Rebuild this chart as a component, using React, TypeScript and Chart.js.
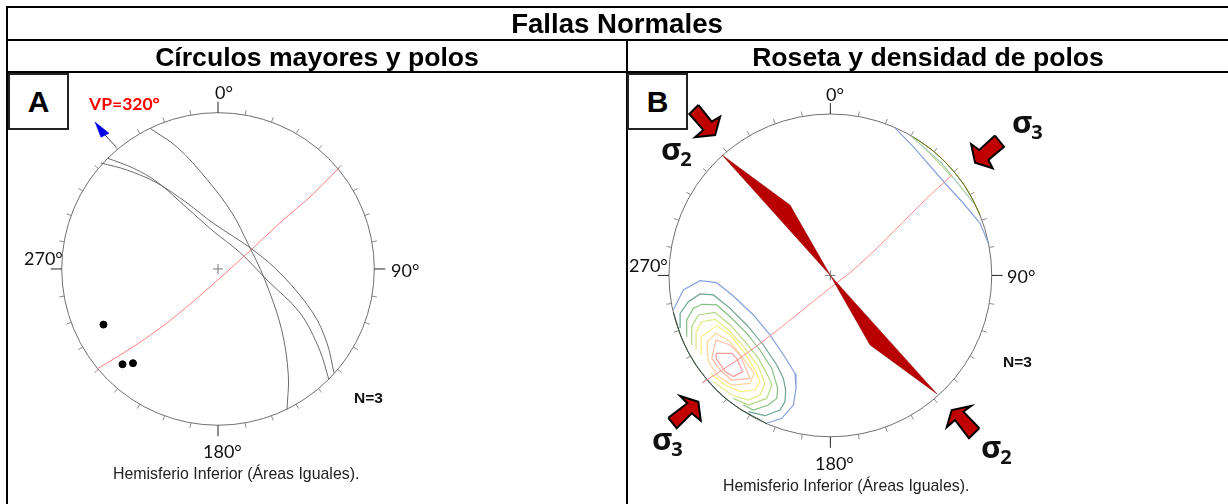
import React, { useEffect, useRef } from "react";
import { Chart, registerables } from "chart.js";

Chart.register(...registerables);

type Pt = [number, number];

// Stereonet units: the primitive circle has radius 100, x is east, y is north.
const TICK_AZIMUTHS = [0, 10, 20, 30, 40, 50, 60, 70, 80, 90, 100, 110, 120, 130, 140, 150, 160, 170, 180, 190, 200, 210, 220, 230, 240, 250, 260, 270, 280, 290, 300, 310, 320, 330, 340, 350];

// Panel A
const PLANE_1: Pt[] = [[-43.5, 90.0], [-26.0, 77.8], [-7.0, 57.2], [9.0, 35.8], [19.5, 15.4], [29.5, -5.8], [40.5, -38.0], [45.0, -68.0], [44.1, -90.2]];
const PLANE_2: Pt[] = [[-71.0, 71.0], [-54.4, 64.6], [-39.0, 55.7], [-19.8, 39.0], [-3.2, 24.3], [14.1, 10.5], [31.3, -7.0], [52.5, -28.2], [65.0, -51.8], [71.0, -71.0]];
const PLANE_3: Pt[] = [[-74.9, 67.8], [-58.2, 63.3], [-39.0, 55.0], [-19.8, 42.2], [-3.2, 29.4], [22.4, 12.2], [41.6, -4.5], [60.8, -28.2], [69.7, -47.3], [74.2, -66.5]];
const VP_PLANE_A: Pt[] = [[77.4, 64.6], [58.9, 46.1], [41.6, 31.3], [22.4, 13.4], [-5.1, -11.5], [-32.6, -34.5], [-54.4, -49.9], [-77.4, -64.0]];
const POLES: Pt[] = [[-73.3, -35.6], [-61.1, -61.0], [-54.4, -60.3]];
const VP_SHAFT: Pt[] = [[-72.3, 85.7], [-65.3, 78.2]];
const VP_HEAD: Pt[] = [[-78.7, 94.0], [-69.7, 86.8], [-74.9, 84.3], [-78.7, 94.0]];

// Panel B
const VP_PLANE_B: Pt[] = [[75.4, 62.2], [58.7, 46.7], [30.8, 18.8], [14.1, 3.3], [-0.2, -7.8], [-34.3, -35.1], [-56.0, -51.2], [-79.5, -66.7]];
const ROSE_NW: Pt[] = [[-67.1, 74.6], [-25.0, 43.6], [0, 0], [-67.1, 74.6]];
const ROSE_SE: Pt[] = [[0, 0], [24.6, -43.1], [66.1, -73.4], [0, 0]];

const DENSITY_1: Pt[] = [[-97.3, -21.4], [-91.1, -9.0], [-80.7, -3.3], [-70.4, -4.5], [-60.1, -12.8], [-47.7, -24.5], [-37.4, -36.9], [-27.0, -52.4], [-21.9, -60.7], [-21.3, -70.0], [-22.9, -80.3], [-30.1, -88.5], [-39.4, -91.6]];
const DENSITY_2: Pt[] = [[-93.1, -32.8], [-93.1, -23.5], [-88.0, -16.3], [-80.7, -11.5], [-72.5, -12.1], [-62.1, -20.4], [-51.8, -30.7], [-41.5, -43.1], [-33.2, -55.5], [-29.1, -63.8], [-27.7, -71.0], [-28.1, -78.2], [-31.2, -83.4], [-40.5, -86.9], [-50.8, -84.4]];
const DENSITY_3: Pt[] = [[-89.0, -38.0], [-89.0, -27.6], [-84.9, -20.4], [-79.7, -17.9], [-70.4, -18.3], [-62.1, -25.6], [-51.8, -35.9], [-43.6, -46.2], [-36.3, -57.6], [-32.6, -70.0], [-33.2, -76.2], [-38.4, -80.3], [-47.7, -83.4], [-53.9, -80.3]];
const DENSITY_4: Pt[] = [[-85.9, -43.1], [-85.9, -31.8], [-81.8, -24.5], [-71.4, -22.9], [-62.1, -30.7], [-52.9, -41.0], [-44.6, -51.4], [-38.4, -62.7], [-36.3, -67.9], [-39.4, -76.2], [-50.8, -80.3], [-60.1, -76.2]];
const DENSITY_5: Pt[] = [[-83.2, -46.2], [-83.2, -34.8], [-79.7, -28.7], [-71.4, -27.2], [-63.2, -33.8], [-52.9, -45.2], [-44.6, -56.5], [-40.5, -66.9], [-43.6, -74.1], [-50.8, -77.2], [-61.1, -74.1], [-72.5, -65.8]];
const DENSITY_6: Pt[] = [[-80.1, -49.3], [-80.1, -38.0], [-70.4, -31.1], [-62.1, -36.9], [-52.9, -48.3], [-46.7, -58.6], [-43.6, -65.8], [-46.7, -71.0], [-55.9, -72.0], [-65.2, -67.9], [-74.5, -60.7]];
const DENSITY_7: Pt[] = [[-76.2, -46.2], [-76.2, -41.0], [-70.8, -35.9], [-62.1, -41.0], [-53.9, -51.4], [-47.3, -60.7], [-49.8, -66.9], [-61.1, -67.9], [-69.4, -62.7], [-75.6, -53.4], [-76.2, -46.2]];
const DENSITY_8: Pt[] = [[-73.5, -51.4], [-70.8, -40.0], [-62.1, -43.1], [-55.9, -49.3], [-49.8, -63.8], [-61.1, -64.8], [-68.3, -58.6], [-73.5, -51.4]];
const DENSITY_9: Pt[] = [[-70.8, -48.3], [-61.1, -48.3], [-58.0, -51.4], [-54.3, -59.6], [-60.1, -62.7], [-65.2, -59.6], [-70.8, -51.4], [-70.8, -48.3]];
const DENSITY_NE_1: Pt[] = [[40.1, 91.2], [51.4, 79.8], [71.1, 57.1], [82.4, 44.7], [92.8, 32.3], [97.9, 19.9]];
const DENSITY_NE_2: Pt[] = [[50.4, 86.0], [69.0, 69.5], [89.7, 43.7]];
const DENSITY_NE_3: Pt[] = [[57.6, 79.8], [75.2, 61.2]];
const RIM_NE: Pt[] = [[51.4, 85.8], [65.9, 75.2], [79.3, 60.9], [86.6, 49.9], [92.8, 37.2]];
const RIM_SW: Pt[] = [[-97.3, -23.0], [-90.0, -43.6], [-78.0, -62.6], [-62.0, -78.5], [-39.4, -91.9]];

const ARROW_SIGMA2_NW: Pt[] = [[-81.8, 105.6], [-87.4, 100.0], [-78.7, 90.1], [-83.8, 85.6], [-71.4, 87.0], [-68.3, 98.3], [-73.5, 95.2], [-81.8, 105.6]];
const ARROW_SIGMA3_NE: Pt[] = [[102.0, 86.6], [107.6, 79.7], [97.9, 71.5], [100.6, 66.4], [89.7, 69.8], [87.2, 81.4], [92.3, 77.7], [102.0, 86.6]];
const ARROW_SIGMA3_SW: Pt[] = [[-100.4, -88.2], [-95.2, -94.7], [-85.9, -85.4], [-80.3, -90.0], [-81.8, -78.3], [-93.1, -74.7], [-88.6, -79.2], [-100.4, -88.2]];
const ARROW_SIGMA2_SE: Pt[] = [[92.3, -94.7], [85.9, -100.9], [77.3, -89.6], [72.1, -94.1], [75.2, -83.4], [87.2, -80.9], [82.4, -84.4], [92.3, -94.7]];

type Lab = { t: string; x: number; y: number; font: string; color?: string; align?: CanvasTextAlign; sub?: string };
const DEG = '18px Lato, "Open Sans", sans-serif';
const SMALL = '15.9px "Liberation Sans", Arial, sans-serif';
const NFONT = 'bold 15.5px "Liberation Sans", Arial, sans-serif';
const SIG = 'bold 31px "Open Sans", sans-serif';

const toXY = (p: Pt[]) => p.map(([x, y]) => ({ x, y }));
const line = (d: Pt[], color: string, width = 1.2, tension = 0) => ({
  type: "scatter" as const,
  data: toXY(d),
  showLine: true,
  borderColor: color,
  borderWidth: width,
  pointRadius: 0,
  tension,
  fill: false,
});
const poly = (d: Pt[], fillColor: string, stroke: string, width: number) => ({
  type: "scatter" as const,
  data: toXY(d),
  showLine: true,
  borderColor: stroke,
  backgroundColor: fillColor,
  borderWidth: width,
  pointRadius: 0,
  fill: "shape",
});

const stereoPlugin = (labels: Lab[]) => ({
  id: "stereoFrame",
  beforeDatasetsDraw(chart: any) {
    const { ctx } = chart;
    const sx = chart.scales.x;
    const sy = chart.scales.y;
    const cx = sx.getPixelForValue(0);
    const cy = sy.getPixelForValue(0);
    const r = sx.getPixelForValue(100) - cx;
    ctx.save();
    ctx.strokeStyle = "#6f6f6f";
    ctx.lineWidth = 1;
    ctx.beginPath();
    ctx.arc(cx, cy, r, 0, Math.PI * 2);
    ctx.stroke();
    TICK_AZIMUTHS.forEach((az) => {
      const a = (az * Math.PI) / 180;
      const major = az % 90 === 0;
      const len = major ? 11 : 5;
      ctx.strokeStyle = major ? "#222" : "#8a8a8a";
      ctx.beginPath();
      ctx.moveTo(cx + r * Math.sin(a), cy - r * Math.cos(a));
      ctx.lineTo(cx + (r + len) * Math.sin(a), cy - (r + len) * Math.cos(a));
      ctx.stroke();
    });
    ctx.strokeStyle = "#777";
    ctx.beginPath();
    ctx.moveTo(cx - 5, cy);
    ctx.lineTo(cx + 5, cy);
    ctx.moveTo(cx, cy - 5);
    ctx.lineTo(cx, cy + 5);
    ctx.stroke();
    ctx.textBaseline = "alphabetic";
    labels.forEach((l) => {
      ctx.font = l.font;
      ctx.fillStyle = l.color ?? "#111";
      ctx.textAlign = l.align ?? "left";
      ctx.fillText(l.t, l.x, l.y);
      if (l.sub) {
        const w = ctx.measureText(l.t).width;
        ctx.font = 'bold 20px "Open Sans", sans-serif';
        ctx.fillText(l.sub, l.x + w - 1, l.y + 6);
      }
    });
    ctx.restore();
  },
});

const Stereonet = ({ left, width, xr, yr, datasets, labels }: any) => {
  const ref = useRef<HTMLCanvasElement>(null);
  useEffect(() => {
    const chart = new Chart(ref.current!, {
      type: "scatter",
      data: { datasets },
      plugins: [stereoPlugin(labels)],
      options: {
        animation: false,
        responsive: false,
        layout: { padding: 0, autoPadding: false },
        plugins: { legend: { display: false }, tooltip: { enabled: false }, title: { display: false } },
        scales: {
          x: { type: "linear", display: false, min: xr[0], max: xr[1] },
          y: { type: "linear", display: false, min: yr[0], max: yr[1] },
        },
      },
    });
    return () => chart.destroy();
  }, []);
  return <canvas ref={ref} width={width} height={504} style={{ position: "absolute", left, top: 0, width, height: 504, display: "block" }} />;
};

const PLANE_COLOR = "#6b6b6b";
const datasetsA = [
  { type: "scatter" as const, data: toXY(POLES), pointRadius: 3.5, pointBackgroundColor: "#000", pointBorderColor: "#000", showLine: false },
  poly(VP_HEAD, "#0000e6", "#0000e6", 0.5),
  line(VP_SHAFT, "#444", 1),
  line(VP_PLANE_A, "#ff7f7f", 1, 0.3),
  line(PLANE_1, PLANE_COLOR, 1, 0.35),
  line(PLANE_2, PLANE_COLOR, 1, 0.35),
  line(PLANE_3, PLANE_COLOR, 1, 0.35),
];

const datasetsB = [
  poly(ARROW_SIGMA2_NW, "#c00000", "#000", 2),
  poly(ARROW_SIGMA3_NE, "#c00000", "#000", 2),
  poly(ARROW_SIGMA3_SW, "#c00000", "#000", 2),
  poly(ARROW_SIGMA2_SE, "#c00000", "#000", 2),
  poly(ROSE_NW, "#b80000", "#8a0000", 0.5),
  poly(ROSE_SE, "#b80000", "#8a0000", 0.5),
  line(VP_PLANE_B, "#ff8c8c", 1, 0.3),
  line(RIM_NE, "#6f7a00", 1, 0.4),
  line(RIM_SW, "#2a4a30", 1, 0.4),
  line(DENSITY_9, "#fb9a9a"),
  line(DENSITY_8, "#fdbca2"),
  line(DENSITY_7, "#fdd49c"),
  line(DENSITY_6, "#fbee7c"),
  line(DENSITY_5, "#dfe982"),
  line(DENSITY_4, "#b4d884"),
  line(DENSITY_3, "#88c084"),
  line(DENSITY_2, "#6ea492"),
  line(DENSITY_1, "#88a0dc"),
  line(DENSITY_NE_1, "#88a0dc"),
  line(DENSITY_NE_2, "#a4cbb4"),
  line(DENSITY_NE_3, "#c4dc90"),
];

const labelsA: Lab[] = [
  { t: "0°", x: 215, y: 99, font: DEG },
  { t: "90°", x: 391, y: 277, font: DEG },
  { t: "180°", x: 203, y: 458, font: DEG },
  { t: "270°", x: 24, y: 265, font: DEG },
  { t: "VP=320°", x: 89, y: 110, font: 'bold 17.5px Lato, sans-serif', color: "#ff0000" },
  { t: "N=3", x: 354, y: 403, font: NFONT },
  { t: "Hemisferio Inferior (Áreas Iguales).", x: 113, y: 479, font: SMALL, color: "#222" },
];
const labelsB: Lab[] = [
  { t: "0°", x: 199, y: 101, font: DEG },
  { t: "90°", x: 380, y: 283, font: DEG },
  { t: "180°", x: 188, y: 470, font: DEG },
  { t: "270°", x: 2, y: 272, font: DEG },
  { t: "N=3", x: 376, y: 367, font: NFONT },
  { t: "Hemisferio Inferior (Áreas Iguales).", x: 96, y: 491, font: SMALL, color: "#222" },
  { t: "σ", x: 34, y: 160, font: SIG, sub: "2" },
  { t: "σ", x: 385, y: 133, font: SIG, sub: "3" },
  { t: "σ", x: 25, y: 450, font: SIG, sub: "3" },
  { t: "σ", x: 354, y: 458, font: SIG, sub: "2" },
];

const rule = (s: React.CSSProperties): React.CSSProperties => ({ position: "absolute", background: "#000", ...s });
const head = (s: React.CSSProperties): React.CSSProperties => ({
  position: "absolute",
  textAlign: "center",
  fontFamily: '"Liberation Sans", Arial, sans-serif',
  fontWeight: 700,
  fontSize: 26.6,
  lineHeight: "30px",
  color: "#000",
  ...s,
});
const box = (left: number): React.CSSProperties => ({
  position: "absolute",
  left,
  top: 73,
  width: 57,
  height: 53,
  background: "#fff",
  border: "2px solid #222",
  textAlign: "center",
  fontFamily: '"Liberation Sans", Arial, sans-serif',
  fontWeight: 700,
  fontSize: 30,
  lineHeight: "53px",
});

export default function App() {
  return (
    <div style={{ position: "absolute", left: 0, top: 0, width: 1228, height: 504, background: "#fff", overflow: "hidden" }}>
      <Stereonet left={0} width={627} xr={[-139.5, 261.7]} yr={[-150.4, 172.1]} datasets={datasetsA} labels={labelsA} />
      <Stereonet left={627} width={601} xr={[-126.0, 246.4]} yr={[-141.6, 170.6]} datasets={datasetsB} labels={labelsB} />
      <div style={rule({ left: 6, top: 6, width: 1222, height: 2 })} />
      <div style={rule({ left: 6, top: 39, width: 1222, height: 2 })} />
      <div style={rule({ left: 6, top: 71, width: 1222, height: 2 })} />
      <div style={rule({ left: 6, top: 6, width: 2, height: 498 })} />
      <div style={rule({ left: 626, top: 39, width: 2, height: 465 })} />
      <div style={head({ left: 8, top: 9, width: 1218, fontSize: 27.6 })}>Fallas Normales</div>
      <div style={head({ left: 8, top: 42, width: 618 })}>Círculos mayores y polos</div>
      <div style={head({ left: 628, top: 42, width: 600 })}>Roseta y densidad de polos</div>
      <div style={box(8)}>A</div>
      <div style={box(627)}>B</div>
    </div>
  );
}
